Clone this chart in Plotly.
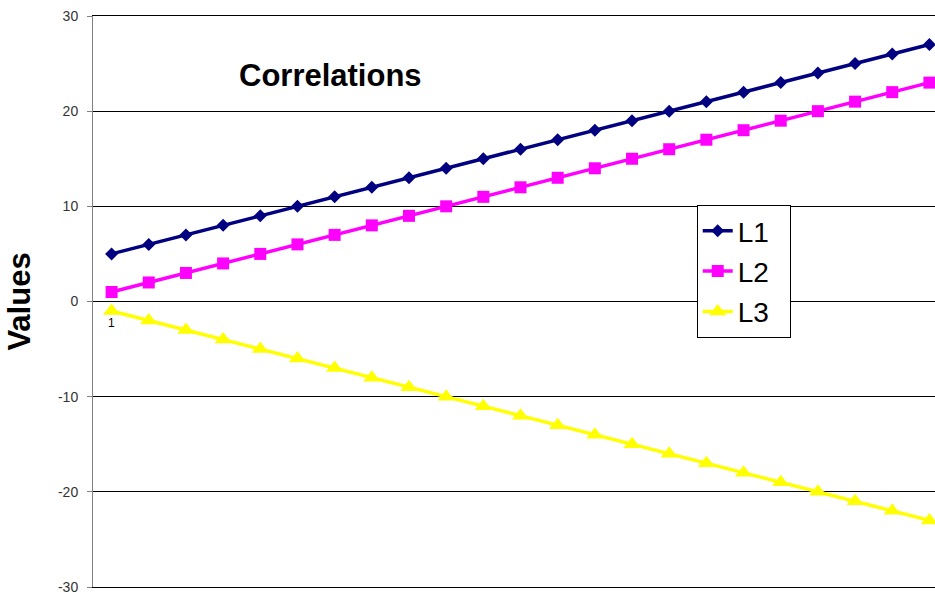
import plotly.graph_objects as go

# Series values, one per point index 1..23
x_idx = list(range(1, 24))
l1 = [5, 6, 7, 8, 9, 10, 11, 12, 13, 14, 15, 16, 17, 18, 19, 20, 21, 22, 23, 24, 25, 26, 27]
l2 = [1, 2, 3, 4, 5, 6, 7, 8, 9, 10, 11, 12, 13, 14, 15, 16, 17, 18, 19, 20, 21, 22, 23]
l3 = [-1, -2, -3, -4, -5, -6, -7, -8, -9, -10, -11, -12, -13, -14, -15, -16, -17, -18, -19, -20, -21, -22, -23]

names = ["L1", "L2", "L3"]
colors = ["#000080", "#FF00FF", "#FFFF00"]
symbols = ["diamond", "square", "triangle-up"]
sizes = [10, 12, 15]
y_ticks = [-30, -20, -10, 0, 10, 20, 30]
y_ticktext = ["-30", "-20", "-10", "0", "10", "20", "30"]

FONT = "Arial, Liberation Sans, sans-serif"
PAD = "\u00a0\u00a0"  # right padding inside the legend box

fig = go.Figure()
for i, (name, ys) in enumerate(zip(names, [l1, l2, l3])):
    fig.add_trace(go.Scatter(
        x=x_idx, y=ys, name=name + PAD, mode="lines+markers",
        line=dict(color=colors[i], width=3.5),
        marker=dict(symbol=symbols[i], size=sizes[i], color=colors[i],
                    line=dict(width=0)),
        legendgroup=name, cliponaxis=False,
    ))

fig.update_layout(
    width=935, height=595,
    margin=dict(l=93, r=0, t=16, b=8),
    paper_bgcolor="white", plot_bgcolor="white",
    font=dict(family=FONT, color="#000"),
    showlegend=True,
    legend=dict(
        x=0.717, y=0.669, xanchor="left", yanchor="top",
        bgcolor="white", bordercolor="#000", borderwidth=1,
        font=dict(family=FONT, size=28, color="#000"),
        tracegroupgap=1,
    ),
    xaxis=dict(
        range=[0.5, 23.15], showgrid=False, zeroline=False,
        showline=True, mirror=True, linecolor="#000", linewidth=1,
        showticklabels=False, ticks="",
    ),
    yaxis=dict(
        range=[-30, 30], tickvals=y_ticks, ticktext=y_ticktext,
        showgrid=True, gridcolor="#000", gridwidth=1,
        zeroline=True, zerolinecolor="#000", zerolinewidth=1,
        showline=True, linecolor="#808080", linewidth=1,
        ticks="outside", ticklen=5, tickcolor="#808080",
        ticklabelstandoff=6,
        tickfont=dict(family=FONT, size=14, color="#333"),
        title=dict(text="<b>Values</b>", font=dict(family=FONT, size=31), standoff=18),
    ),
    annotations=[
        dict(x=1, y=0, xref="x", yref="y", text="1", showarrow=False,
             yanchor="top", yshift=-12, font=dict(family=FONT, size=12, color="#000")),
        dict(x=(330 - 93) / 842, y=(587 - 76) / 571, xref="paper", yref="paper",
             text="<b>Correlations</b>", showarrow=False,
             xanchor="center", yanchor="middle",
             font=dict(family=FONT, size=31, color="#000")),
    ],
)

fig.write_html("out.html")
